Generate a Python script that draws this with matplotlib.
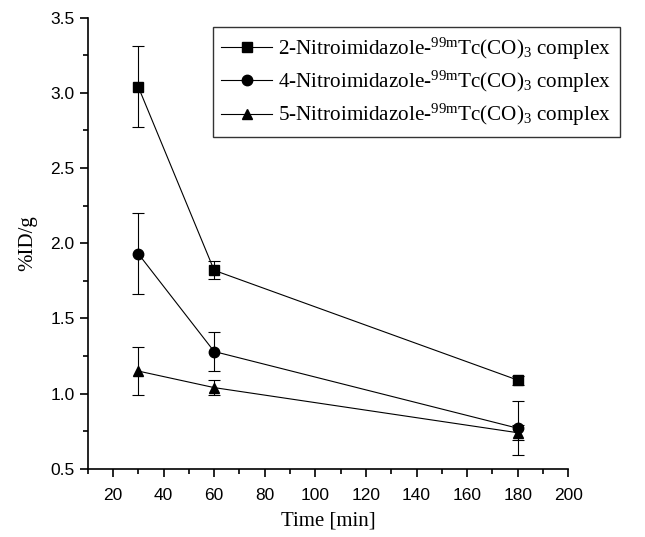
import matplotlib
matplotlib.use("Agg")
import matplotlib.pyplot as plt
from matplotlib.ticker import MultipleLocator, FormatStrFormatter

plt.rcParams['mathtext.fontset'] = 'custom'
plt.rcParams['mathtext.rm'] = 'Liberation Serif'
plt.rcParams['mathtext.it'] = 'Liberation Serif:italic'

time_min = [30, 60, 180]
nitro2 = [3.04, 1.82, 1.09]
nitro2_err = [0.27, 0.06, 0.03]
nitro4 = [1.93, 1.28, 0.77]
nitro4_err = [0.27, 0.13, 0.18]
nitro5 = [1.15, 1.04, 0.74]
nitro5_err = [0.16, 0.05, 0.05]

labels = [
    r'2-Nitroimidazole-$^{\mathrm{99m}}$Tc(CO)$_{3}$ complex',
    r'4-Nitroimidazole-$^{\mathrm{99m}}$Tc(CO)$_{3}$ complex',
    r'5-Nitroimidazole-$^{\mathrm{99m}}$Tc(CO)$_{3}$ complex',
]

fig = plt.figure(figsize=(6.45, 5.37), dpi=100)
ax = fig.add_axes([0.136, 0.127, 0.745, 0.84])

series = [(nitro2, nitro2_err, 's'), (nitro4, nitro4_err, 'o'), (nitro5, nitro5_err, '^')]
for (vals, errs, mk), lab in zip(series, labels):
    ax.errorbar(time_min, vals, yerr=errs, fmt='none', ecolor='black',
                elinewidth=0.8, capsize=4, capthick=0.8)
    ax.plot(time_min, vals, color='black', marker=mk, markersize=7.5,
            linewidth=0.8, label=lab)

ax.set_xlim(10, 200)
ax.set_ylim(0.5, 3.5)
ax.xaxis.set_major_locator(MultipleLocator(20))
ax.xaxis.set_minor_locator(MultipleLocator(10))
ax.yaxis.set_major_locator(MultipleLocator(0.5))
ax.yaxis.set_minor_locator(MultipleLocator(0.25))
ax.yaxis.set_major_formatter(FormatStrFormatter('%.1f'))
ax.spines['top'].set_visible(False)
ax.spines['right'].set_visible(False)
ax.spines['left'].set_linewidth(1.2)
ax.spines['bottom'].set_linewidth(1.2)
ax.tick_params(which='major', direction='out', length=6, width=1.2, labelsize=12.5)
ax.tick_params(axis='x', which='major', pad=8)
ax.tick_params(which='minor', direction='out', length=3.5, width=1.2)
for t in ax.get_xticklabels() + ax.get_yticklabels():
    t.set_family('Liberation Sans')

ax.set_xlabel('Time [min]', family='Liberation Serif', fontsize=15, labelpad=6)
ax.set_ylabel('%ID/g', family='Liberation Serif', fontsize=15, labelpad=9)

leg = ax.legend(loc='upper left', bbox_to_anchor=(213 / 645, 1 - 27 / 537),
                bbox_transform=fig.transFigure, borderaxespad=0,
                prop={'family': 'Liberation Serif', 'size': 15.2},
                frameon=True, fancybox=False, edgecolor='black', handlelength=2.4,
                handletextpad=0.3, borderpad=0.4, labelspacing=0.34)
leg.get_frame().set_linewidth(1.0)

fig.savefig('out.png', dpi=100)
